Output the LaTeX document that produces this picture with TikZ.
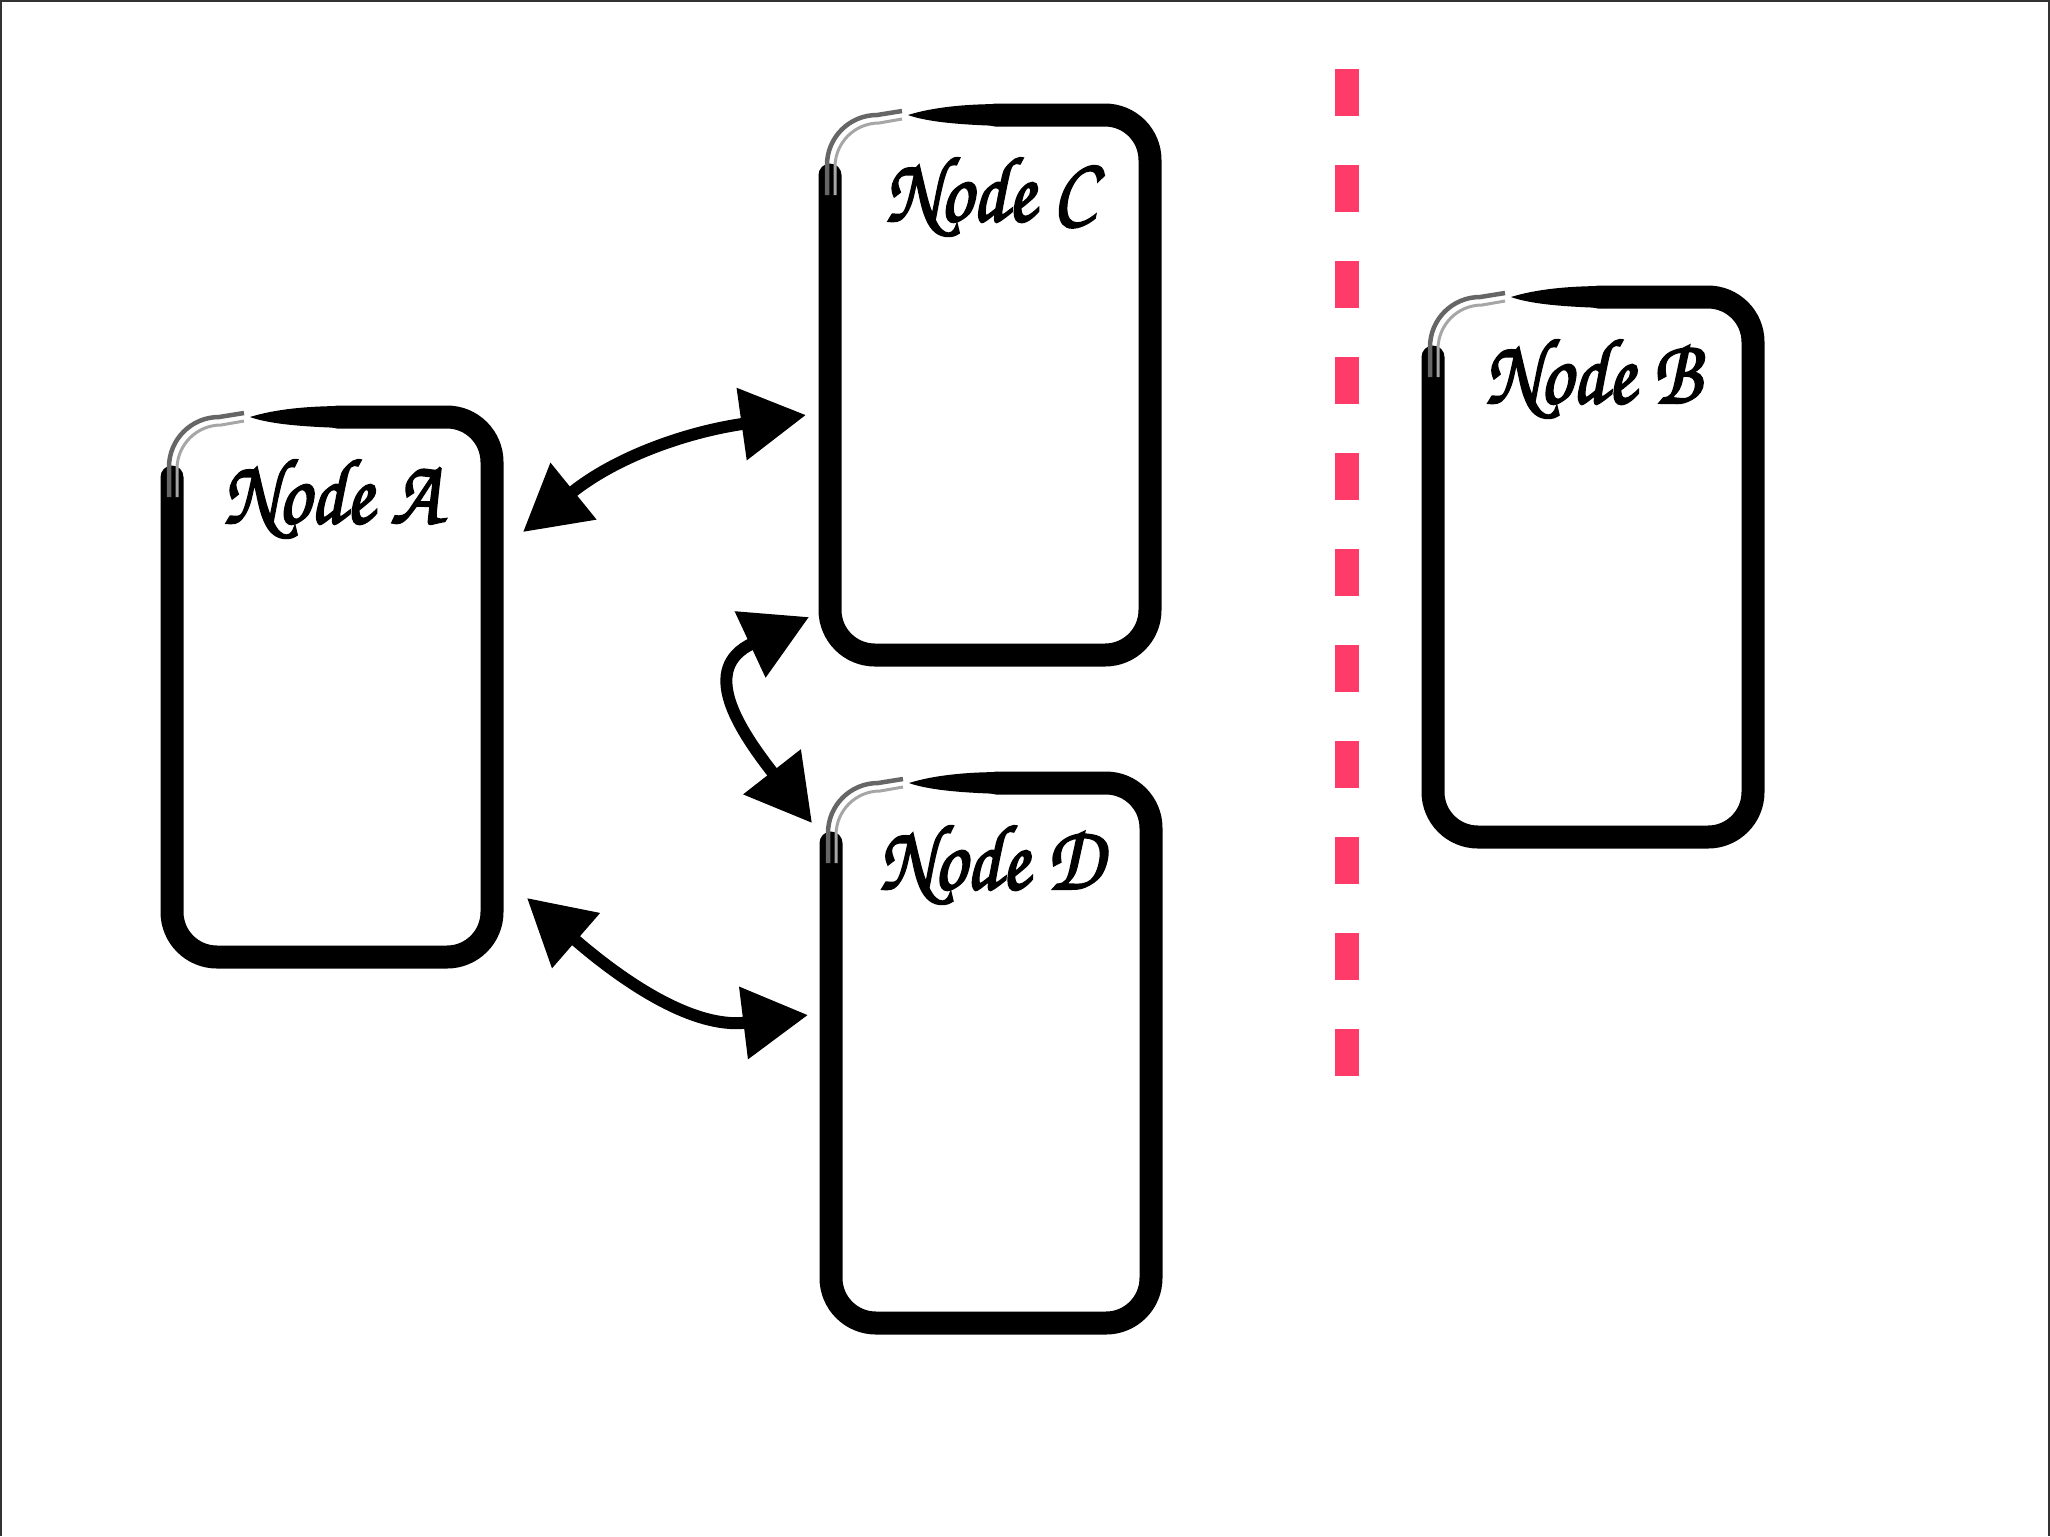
\documentclass[tikz,border=0pt]{standalone}
\usepackage{fontspec}
\usepackage{graphicx}
\usepackage{tikz}
\usetikzlibrary{calc}
\usetikzlibrary{arrows.meta}

\newfontfamily\brushfont{texgyrechorus-mediumitalic.otf}[FakeBold=2.5]
\definecolor{dashred}{RGB}{255,59,105}

\tikzset{
  box/.style={draw=none, minimum width=32mm, minimum height=54mm, inner sep=0pt, outer sep=0pt},
  boxlabel/.style={inner sep=0pt, font=\brushfont\fontsize{23}{26}\selectfont},
  brush/.style={line width=2.3mm, rounded corners=4.5mm, line cap=round},
  link/.style={<->, >={Triangle[length=6.5mm,width=7mm]}, line width=1.2mm},
}

% sketchy outline round a box node
\newcommand{\sketchbox}[1]{%
  \fill ($(#1.north west)+(78,0)$) .. controls ($(#1.north west)+(110,-10)$) and ($(#1.north west)+(150,-11)$) .. ($(#1.north west)+(172,-11)$)
    -- ($(#1.north west)+(172,11)$) .. controls ($(#1.north west)+(140,10)$) and ($(#1.north west)+(100,8)$) .. cycle;
  \draw[brush] ($(#1.north west)+(165,0)$) -- (#1.north east) -- (#1.south east) -- (#1.south west) -- ($(#1.north west)+(0,60)$);
  \draw[black!60, line width=0.45mm] ($(#1.north west)+(-3,80)$) -- ($(#1.north west)+(-3,50)$) arc[start angle=180, end angle=90, radius=5mm] -- ($(#1.north west)+(72,-4)$);
  \draw[black!35, line width=0.3mm] ($(#1.north west)+(5,80)$) -- ($(#1.north west)+(5,52)$) arc[start angle=180, end angle=90, radius=4.4mm] -- ($(#1.north west)+(72,4)$);
}

\begin{document}
\begin{tikzpicture}[x=0.1mm,y=-0.1mm]

    \useasboundingbox (0,0) rectangle (2050,1536);

    % Frame
    \draw[black!80, line width=0.2mm] (1,1536) -- (1,1) -- (2049,1) -- (2049,1536);

    % Boxes
    \node[box] (A) at (332, 687) {};
    \node[box] (C) at (990, 385) {};
    \node[box] (D) at (991, 1053) {};
    \node[box] (B) at (1593, 567) {};
    \sketchbox{A}
    \sketchbox{C}
    \sketchbox{D}
    \sketchbox{B}

    % Labels
    \node[boxlabel] (Alabel) at ($(A.north)+(0,82)$) {\scalebox{1}[1.15]{Node A}};
    \node[boxlabel] (Clabel) at ($(C.north)+(0,82)$) {\scalebox{1}[1.15]{Node C}};
    \node[boxlabel] (Dlabel) at ($(D.north)+(0,82)$) {\scalebox{1}[1.15]{Node D}};
    \node[boxlabel] (Blabel) at ($(B.north)+(0,82)$) {\scalebox{1}[1.15]{Node B}};

    % Arrows
    \draw[link] ($(A.east)+(31,-155)$) to[out=39, in=188] ($(C.west)+(-24,30)$);
    \draw[link] ($(C.west)+(-21,232)$) to[out=205, in=128, looseness=1.5] ($(D.west)+(-19,-230)$);
    \draw[link] ($(A.east)+(35,211)$) to[out=-41, in=187] ($(D.west)+(-23,-38)$);

    % Border line
    \foreach \i in {0,...,10}
        \fill[dashred] (1335, 69+96*\i) rectangle +(24, 47);
\end{tikzpicture}
\end{document}
